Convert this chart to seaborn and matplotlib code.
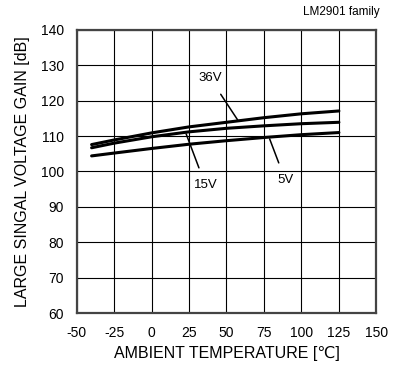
import pandas as pd
import seaborn as sns
import matplotlib.pyplot as plt

# Values
temps = [-40, -25, 0, 25, 50, 75, 100, 125]
gain_36v = [107.6, 108.9, 110.9, 112.6, 113.9, 115.2, 116.3, 117.1]
gain_15v = [106.7, 108.0, 109.8, 111.2, 112.2, 112.9, 113.5, 113.9]
gain_5v = [104.4, 105.2, 106.5, 107.7, 108.7, 109.6, 110.4, 111.0]

x_ticks = [-50, -25, 0, 25, 50, 75, 100, 125, 150]
y_ticks = [60, 70, 80, 90, 100, 110, 120, 130, 140]

df = pd.DataFrame(
    {
        "temp": temps * 3,
        "gain": gain_36v + gain_15v + gain_5v,
        "supply": ["36V"] * len(temps) + ["15V"] * len(temps) + ["5V"] * len(temps),
    }
)

sns.set_style("white")
plt.rcParams["font.family"] = ["Liberation Sans", "DejaVu Sans"]
plt.rcParams["axes.unicode_minus"] = False
plt.rcParams["text.color"] = "black"
plt.rcParams["axes.labelcolor"] = "black"
plt.rcParams["xtick.color"] = "black"
plt.rcParams["ytick.color"] = "black"

fig = plt.figure(figsize=(3.97, 3.74), dpi=100)
ax = fig.add_axes([0.193, 0.163, 0.755, 0.757])

sns.lineplot(
    data=df,
    x="temp",
    y="gain",
    units="supply",
    estimator=None,
    color="black",
    linewidth=2.2,
    ax=ax,
)

ax.set_xlim(-50, 150)
ax.set_ylim(60, 140)
ax.set_xticks(x_ticks)
ax.set_yticks(y_ticks)
ax.grid(True, color="black", linewidth=0.8)
for s in ax.spines.values():
    s.set_color("#444444")
    s.set_linewidth(1.6)
ax.tick_params(length=0, pad=9, labelsize=10)

ax.set_xlabel("AMBIENT TEMPERATURE [\u2103]", fontsize=11.5, labelpad=5)
ax.set_ylabel("LARGE SINGAL VOLTAGE GAIN [dB]", fontsize=11.5, labelpad=8)

# Curve labels with leader lines
ax.annotate("36V", xy=(57.4, 114.6), xytext=(39, 126.4), fontsize=9.5,
            ha="center", va="center",
            arrowprops=dict(arrowstyle="-", color="black", lw=1.1, shrinkA=6, shrinkB=0))
ax.annotate("15V", xy=(23.1, 110.6), xytext=(35.9, 96.2), fontsize=9.5,
            ha="center", va="center",
            arrowprops=dict(arrowstyle="-", color="black", lw=1.1, shrinkA=6, shrinkB=0))
ax.annotate("5V", xy=(78.8, 109.2), xytext=(89.2, 97.6), fontsize=9.5,
            ha="center", va="center",
            arrowprops=dict(arrowstyle="-", color="black", lw=1.1, shrinkA=6, shrinkB=0))

fig.text(0.955, 0.968, "LM2901 family", ha="right", va="center", fontsize=8.5)

fig.savefig("out.png", dpi=100)
